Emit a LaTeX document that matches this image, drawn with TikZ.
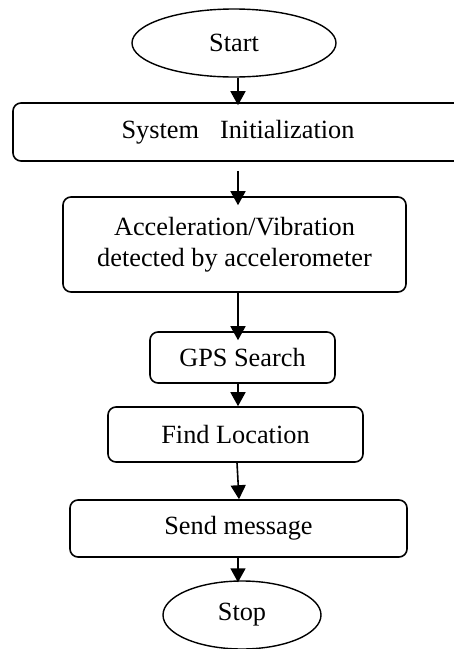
\documentclass[tikz,border=0pt]{standalone}
\usepackage{fontspec}
\setmainfont{Liberation Serif}
\usetikzlibrary{shapes.geometric,arrows.meta}
\begin{document}
\begin{tikzpicture}[x=1pt,y=-1pt,
  font=\fontsize{26.3}{30.5}\selectfont,
  procbox/.style={draw,line width=1.6pt,rounded corners=8pt,rectangle,inner sep=0pt,align=center},
  term/.style={draw,line width=1.4pt,ellipse,inner sep=0pt},
  arr/.style={line width=1.6pt,-{Triangle[width=15pt,length=14pt]}}]
\useasboundingbox (0,0) rectangle (454,649);
\clip (0,0) rectangle (454,649);
\coordinate (ax) at (238,0);
\node[term,minimum width=204pt,minimum height=68pt] (start) at (234,43) {Start};
\node[procbox,minimum width=450pt,minimum height=58pt] (sys) at (238,132) {System\hspace{0.8em}Initialization};
\node[procbox,minimum width=343pt,minimum height=95pt] (acc) at (234.5,244.5) {Acceleration/Vibration\\detected by accelerometer};
\node[procbox,minimum width=185pt,minimum height=51pt] (gps) at (242.5,357.5) {GPS Search};
\node[procbox,minimum width=255pt,minimum height=55pt] (find) at (235.5,434.5) {Find Location};
\node[procbox,minimum width=337pt,minimum height=57pt] (send) at (238.5,528.5) {Send message};
\node[term,minimum width=158pt,minimum height=68pt] (stop) at (242,615) {Stop};
\draw[arr] (start.south -| ax) -- ([yshift=-3pt]sys.north -| ax);
\draw[arr,shorten <=9pt] (sys.south -| ax) -- ([yshift=-9pt]acc.north -| ax);
\draw[arr] (acc.south -| ax) -- ([yshift=-9pt]gps.north -| ax);
\draw[arr] (gps.south -| ax) -- (find.north -| ax);
\draw[arr] ([xshift=-1pt]find.south -| ax) -- ([xshift=1pt]send.north -| ax);
\draw[arr] (send.south -| ax) -- ([yshift=-2pt]stop.north -| ax);
\end{tikzpicture}
\end{document}
